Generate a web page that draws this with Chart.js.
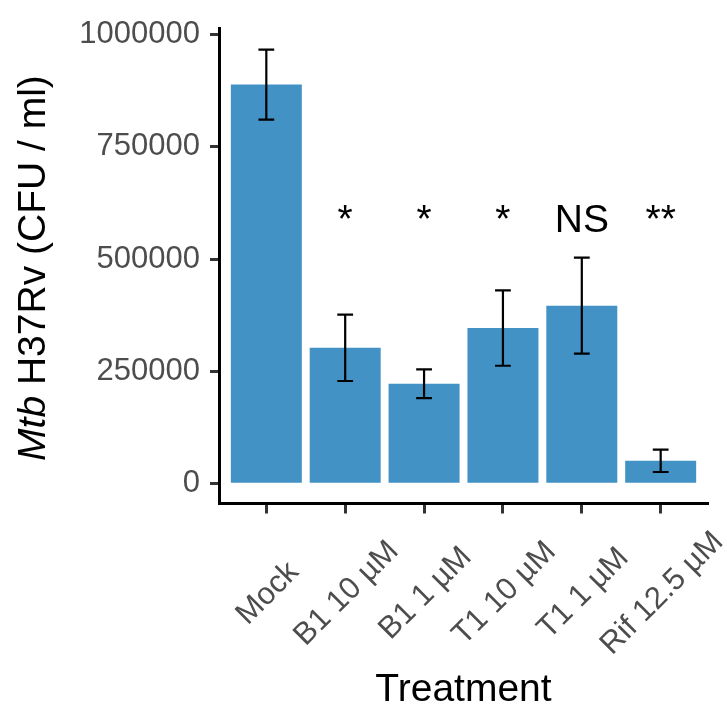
<!DOCTYPE html>
<html>
<head>
<meta charset="utf-8">
<script src="https://cdn.jsdelivr.net/npm/chart.js@4/dist/chart.umd.min.js"></script>
<style>
  body { margin: 0; background: #fff; }
</style>
</head>
<body>
<canvas id="cfuChart" width="727" height="705"></canvas>
<script>
// CFU counts per treatment (mean and error)
const treatments = ['Mock', 'B1 10 µM', 'B1 1 µM', 'T1 10 µM', 'T1 1 µM', 'Rif 12.5 µM'];
const meanCfu = [889000, 302000, 222000, 346000, 396000, 50000];
const errCfu = [78000, 74000, 32000, 84000, 107000, 25000];
const sigLabels = ['', '*', '*', '*', 'NS', '**'];
const sigLabelY = 560000;
const yTicks = [0, 250000, 500000, 750000, 1000000];

const FONT = '"Liberation Sans", Arial, Helvetica, sans-serif';

// error bars, significance marks, rotated category labels and the y title
const extras = {
    id: 'extras',
    afterDatasetsDraw(chart) {
        const ctx = chart.ctx;
        const xs = chart.scales.x;
        const ys = chart.scales.y;
        const capHalf = xs.getPixelForValue(1.1) - xs.getPixelForValue(1);

        ctx.save();
        ctx.strokeStyle = '#000';
        ctx.lineWidth = 2.2;
        meanCfu.forEach((m, i) => {
            const px = xs.getPixelForValue(i + 1);
            const top = ys.getPixelForValue(m + errCfu[i]);
            const bot = ys.getPixelForValue(m - errCfu[i]);
            ctx.beginPath();
            ctx.moveTo(px, top);
            ctx.lineTo(px, bot);
            ctx.moveTo(px - capHalf, top);
            ctx.lineTo(px + capHalf, top);
            ctx.moveTo(px - capHalf, bot);
            ctx.lineTo(px + capHalf, bot);
            ctx.stroke();
        });

        ctx.fillStyle = '#000';
        ctx.font = '39px ' + FONT;
        ctx.textAlign = 'center';
        ctx.textBaseline = 'alphabetic';
        sigLabels.forEach((s, i) => {
            if (s) ctx.fillText(s, xs.getPixelForValue(i + 1), ys.getPixelForValue(sigLabelY));
        });
        ctx.restore();
    },
    afterDraw(chart) {
        const ctx = chart.ctx;
        const xs = chart.scales.x;
        const area = chart.chartArea;

        // category labels at 45 degrees, centred under each tick
        ctx.save();
        ctx.fillStyle = '#4d4d4d';
        ctx.font = '31px ' + FONT;
        ctx.textAlign = 'center';
        ctx.textBaseline = 'middle';
        treatments.forEach((t, i) => {
            ctx.save();
            ctx.translate(xs.getPixelForValue(i + 1) + 1.5, area.bottom + 90);
            ctx.rotate(-Math.PI / 4);
            ctx.fillText(t, 0, 0);
            ctx.restore();
        });
        ctx.restore();

        // y title: italic "Mtb" followed by plain text
        ctx.save();
        ctx.translate(45, (area.top + area.bottom) / 2 + 2);
        ctx.rotate(-Math.PI / 2);
        ctx.fillStyle = '#000';
        ctx.textAlign = 'left';
        ctx.textBaseline = 'alphabetic';
        const ital = 'italic 39px ' + FONT;
        const reg = '39px ' + FONT;
        const rest = ' H37Rv (CFU / ml)';
        ctx.font = ital;
        const w1 = ctx.measureText('Mtb').width;
        ctx.font = reg;
        const w2 = ctx.measureText(rest).width;
        let sx = -(w1 + w2) / 2;
        ctx.font = ital;
        ctx.fillText('Mtb', sx, 0);
        ctx.font = reg;
        ctx.fillText(rest, sx + w1, 0);
        ctx.restore();
    }
};

new Chart(document.getElementById('cfuChart'), {
    type: 'bar',
    data: {
        datasets: [{
            data: meanCfu.map((v, i) => ({ x: i + 1, y: v })),
            backgroundColor: '#4292c6',
            borderWidth: 0,
            barPercentage: 0.9,
            categoryPercentage: 1.0
        }]
    },
    options: {
        responsive: false,
        animation: false,
        layout: { padding: { top: 23, right: 19, bottom: 0, left: 0 } },
        plugins: {
            legend: { display: false },
            tooltip: { enabled: false }
        },
        scales: {
            x: {
                type: 'linear',
                min: 0.4,
                max: 6.6,
                offset: false,
                afterBuildTicks: scale => {
                    scale.ticks = treatments.map((_, i) => ({ value: i + 1 }));
                },
                afterFit: scale => { scale.height = 201.5; },
                ticks: { display: false },
                grid: {
                    display: true,
                    offset: false,
                    drawOnChartArea: false,
                    drawTicks: true,
                    tickLength: 10,
                    tickWidth: 3,
                    tickColor: '#333333'
                },
                border: { display: true, color: '#000', width: 3 },
                title: {
                    display: true,
                    text: 'Treatment',
                    color: '#000',
                    font: { family: FONT, size: 39, lineHeight: 1 },
                    padding: { top: 0, bottom: -5 }
                }
            },
            y: {
                min: -45200,
                max: 1013900,
                afterBuildTicks: scale => {
                    scale.ticks = yTicks.map(v => ({ value: v }));
                },
                afterFit: scale => { scale.width = 219; },
                ticks: {
                    color: '#4d4d4d',
                    font: { family: FONT, size: 31 },
                    padding: 10,
                    callback: v => String(v)
                },
                grid: {
                    display: true,
                    drawOnChartArea: false,
                    drawTicks: true,
                    tickLength: 9,
                    tickWidth: 3,
                    tickColor: '#333333'
                },
                border: { display: true, color: '#000', width: 3 }
            }
        }
    },
    plugins: [extras]
});
</script>
</body>
</html>
